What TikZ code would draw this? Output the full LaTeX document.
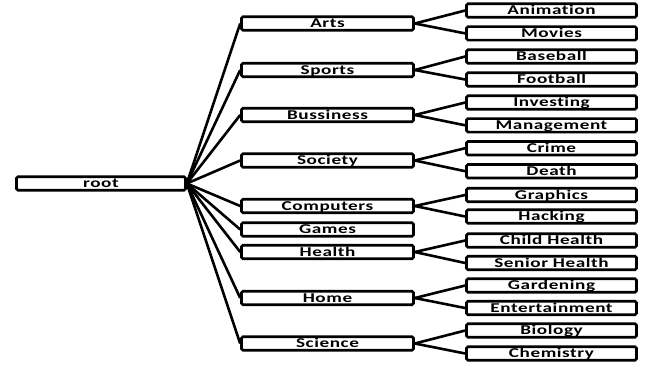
\documentclass[tikz,border=0pt]{standalone}
\usepackage{graphicx}
\usepackage{fontspec}
\setmainfont{Carlito}[Ligatures=NoCommon,LetterSpace=3]
\newcommand{\wtext}[1]{\scalebox{1.42}[1]{\bfseries #1}}
\tikzset{
  topic/.style={draw, line width=2.6pt, rounded corners=1.5pt, minimum height=13.5pt,
    inner sep=0pt, text height=11pt, text depth=2.5pt, font=\fontsize{13.5}{13.5}\selectfont},
  rootbox/.style={topic, minimum width=169pt},
  midbox/.style={topic, minimum width=172pt},
  leafbox/.style={topic, minimum width=170pt},
  link/.style={line width=2.6pt},
}
\begin{document}
\begin{tikzpicture}[x=1pt,y=-1pt]
        \useasboundingbox (0,0) rectangle (652,365);
        \node[rootbox] at (101,183.5) (root) {\wtext{root}};
        % first level
        \node[midbox] at (327.5,23.5) (arts) {\wtext{Arts}};
        \node[midbox] at (327.5,70) (sports) {\wtext{Sports}};
        \node[midbox] at (327.5,115) (business) {\wtext{Bussiness}};
        \node[midbox] at (327.5,160.5) (society) {\wtext{Society}};
        \node[midbox] at (327.5,206) (computers) {\wtext{Computers}};
        \node[midbox] at (327.5,229.5) (games) {\wtext{Games}};
        \node[midbox] at (327.5,252) (health) {\wtext{Health}};
        \node[midbox] at (327.5,298) (home) {\wtext{Home}};
        \node[midbox] at (327.5,343.5) (science) {\wtext{Science}};
        \foreach \t in {arts,sports,business,society,computers,games,health,home,science}
          \draw[link] (root.east) -- (\t.west);
        % second level
        \node[leafbox] at (551.5,10.5) (animation) {\wtext{Animation}};
        \node[leafbox] at (551.5,33.4) (movies) {\wtext{Movies}};
        \draw[link] (arts.east) -- (animation.west);
        \draw[link] (arts.east) -- (movies.west);
        \node[leafbox] at (551.5,56.5) (baseball) {\wtext{Baseball}};
        \node[leafbox] at (551.5,79.5) (football) {\wtext{Football}};
        \draw[link] (sports.east) -- (baseball.west);
        \draw[link] (sports.east) -- (football.west);
        \node[leafbox] at (551.5,102.5) (investing) {\wtext{Investing}};
        \node[leafbox] at (551.5,125.3) (management) {\wtext{Management}};
        \draw[link] (business.east) -- (investing.west);
        \draw[link] (business.east) -- (management.west);
        \node[leafbox] at (551.5,148.2) (crime) {\wtext{Crime}};
        \node[leafbox] at (551.5,171.2) (death) {\wtext{Death}};
        \draw[link] (society.east) -- (crime.west);
        \draw[link] (society.east) -- (death.west);
        \node[leafbox] at (551.5,195) (graphics) {\wtext{Graphics}};
        \node[leafbox] at (551.5,216.5) (hacking) {\wtext{Hacking}};
        \draw[link] (computers.east) -- (graphics.west);
        \draw[link] (computers.east) -- (hacking.west);
        \node[leafbox] at (551.5,240.5) (child) {\wtext{Child Health}};
        \node[leafbox] at (551.5,263) (senior) {\wtext{Senior Health}};
        \draw[link] (health.east) -- (child.west);
        \draw[link] (health.east) -- (senior.west);
        \node[leafbox] at (551.5,285.5) (gardening) {\wtext{Gardening}};
        \node[leafbox] at (551.5,308) (entertainment) {\wtext{Entertainment}};
        \draw[link] (home.east) -- (gardening.west);
        \draw[link] (home.east) -- (entertainment.west);
        \node[leafbox] at (551.5,330.5) (biology) {\wtext{Biology}};
        \node[leafbox] at (551.5,353.5) (chemistry) {\wtext{Chemistry}};
        \draw[link] (science.east) -- (biology.west);
        \draw[link] (science.east) -- (chemistry.west);
    \end{tikzpicture}
\end{document}
